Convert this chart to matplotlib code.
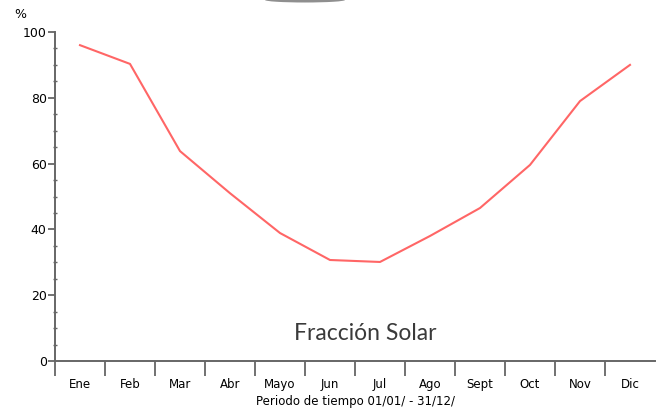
import matplotlib.pyplot as plt
import numpy as np
from matplotlib.ticker import MultipleLocator
from matplotlib.patches import Ellipse

meses = ['Ene', 'Feb', 'Mar', 'Abr', 'Mayo', 'Jun', 'Jul', 'Ago', 'Sept', 'Oct', 'Nov', 'Dic']
fraccion = [96, 90.3, 63.8, 51, 38.9, 30.7, 30.1, 38, 46.5, 59.6, 79, 90]

fig = plt.figure(figsize=(6.64, 4.12), dpi=100)
ax = fig.add_axes([55/664, 51/412, 600/664, 329/412])

x = np.arange(len(meses)) + 0.5
ax.plot(x, fraccion, color='#ff6666', lw=1.5)

ax.set_xlim(0, 12)
ax.set_ylim(0, 100)

for s in ['top', 'right']:
    ax.spines[s].set_visible(False)
for s in ['left', 'bottom']:
    ax.spines[s].set_color('#666666')
    ax.spines[s].set_linewidth(1.4)

# ticks del eje x: separadores entre meses, etiquetas centradas
ax.set_xticks(np.arange(12))
ax.set_xticklabels([])
ax.set_xticks(x, minor=True)
ax.set_xticklabels(meses, minor=True, fontsize=8.5)
ax.tick_params(axis='x', which='major', length=11, width=1.3, color='#666666')
ax.tick_params(axis='x', which='minor', length=0, pad=12)

ax.yaxis.set_major_locator(MultipleLocator(20))
ax.yaxis.set_minor_locator(MultipleLocator(5))
ax.tick_params(axis='y', which='major', length=5, width=1.3, color='#666666', labelsize=9, pad=1)
ax.tick_params(axis='y', which='minor', length=3, width=1, color='#666666', direction='inout')

fig.text(20/664, 1 - 14/412, '%', fontsize=9, ha='center', va='center')
fig.text(355/664, 1 - 402/412, 'Periodo de tiempo 01/01/ - 31/12/', fontsize=8.5, ha='center', va='center')
fig.text(365/664, 1 - 333/412, 'Fracción Solar', fontsize=16.5, family='Lato', fontweight='normal',
         ha='center', va='center', color='#3a3a3a')

# mancha oscura en el borde superior
fig.patches.append(Ellipse((305/664, 1.0), 80/664, 5/412, transform=fig.transFigure,
                           facecolor='#444444', edgecolor='none', alpha=0.6))

fig.savefig('out.png', dpi=100)
